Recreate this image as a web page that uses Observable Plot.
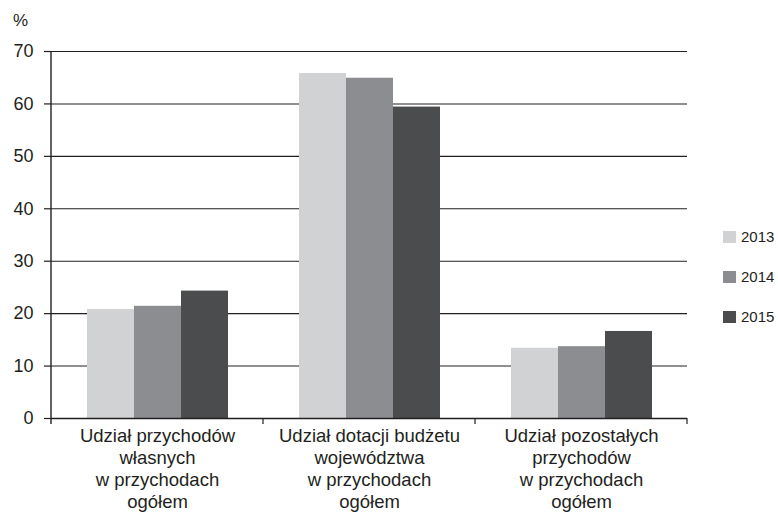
<!DOCTYPE html>
<html>
<head>
<meta charset="utf-8">
<script src="https://cdn.jsdelivr.net/npm/d3@7"></script>
<script src="https://cdn.jsdelivr.net/npm/@observablehq/plot@0.6"></script>
<style>
  body { margin: 0; background: #fff; }
  #wrap { position: relative; width: 778px; height: 512px; font-family: "Liberation Sans", Arial, sans-serif; color: #231f20; }
  #unit { position: absolute; left: 13px; top: 11px; font-size: 17px; }
  #legend { position: absolute; left: 723px; top: 0; }
  .item { position: absolute; left: 0; display: flex; align-items: center; white-space: nowrap; font-size: 15px; line-height: 18px; }
  .sw { width: 13px; height: 12px; margin-right: 5px; flex: none; }
</style>
</head>
<body>
<div id="wrap"></div>
<script>
const categories = [
  "Udział przychodów\nwłasnych\nw przychodach\nogółem",
  "Udział dotacji budżetu\nwojewództwa\nw przychodach\nogółem",
  "Udział pozostałych\nprzychodów\nw przychodach\nogółem"
];
const years = ["2013", "2014", "2015"];
const values2013 = [20.8, 65.8, 13.4];
const values2014 = [21.4, 64.9, 13.7];
const values2015 = [24.3, 59.4, 16.6];
const yearColors = ["#d1d2d4", "#8c8d90", "#4b4c4e"];
const yTicks = [0, 10, 20, 30, 40, 50, 60, 70];
const unitLabel = "%";

const series = [values2013, values2014, values2015];
const data = [];
categories.forEach((c, i) => {
  years.forEach((y, j) => data.push({category: c, year: y, value: series[j][i]}));
});

const ink = "#231f20";
const chart = Plot.plot({
  width: 778,
  height: 512,
  marginLeft: 50,
  marginRight: 91,
  marginTop: 51,
  marginBottom: 94,
  style: {fontFamily: '"Liberation Sans", Arial, sans-serif', fontSize: "17px", color: ink, background: "#fff", overflow: "visible"},
  fx: {domain: categories, padding: 0, axis: null},
  x: {domain: years, paddingInner: 0, paddingOuter: 0.72, axis: null},
  y: {domain: [0, 70], axis: null},
  color: {domain: years, range: yearColors},
  marks: [
    Plot.ruleY(yTicks.filter(d => d > 0), {stroke: ink, strokeWidth: 1.1}),
    Plot.barY(data, {fx: "category", x: "year", y: "value", fill: "year"}),
    Plot.ruleY([0], {stroke: ink, strokeWidth: 1.4}),
    Plot.axisY({ticks: yTicks, tickSize: 7, tickPadding: 11, fontSize: 18, stroke: ink, strokeWidth: 1.2, label: null}),
    Plot.axisFx({anchor: "bottom", tickSize: 0, tickPadding: 8, fontSize: 18.5, lineHeight: 1.19, label: null})
  ]
});

const wrap = document.getElementById("wrap");
wrap.appendChild(chart);

// y axis line and category boundary ticks, derived from the scales
const fx = chart.scale("fx");
const ys = chart.scale("y");
const svg = d3.select(chart);
const y0 = ys.apply(0), yTop = ys.apply(70);
const starts = categories.map(c => fx.apply(c));
const bounds = starts.concat([starts[starts.length - 1] + fx.bandwidth]);
svg.append("line")
  .attr("x1", bounds[0]).attr("x2", bounds[0])
  .attr("y1", yTop).attr("y2", y0 + 6)
  .attr("stroke", ink).attr("stroke-width", 1.4);
svg.selectAll(".bt").data(bounds.slice(1)).join("line")
  .attr("x1", d => d).attr("x2", d => d)
  .attr("y1", y0).attr("y2", y0 + 6)
  .attr("stroke", ink).attr("stroke-width", 1.2);

const unit = document.createElement("div");
unit.id = "unit";
unit.textContent = unitLabel;
wrap.appendChild(unit);

const legend = document.createElement("div");
legend.id = "legend";
years.forEach((y, i) => {
  const it = document.createElement("div");
  it.className = "item";
  it.style.top = (228 + i * 40) + "px";
  const sw = document.createElement("span");
  sw.className = "sw";
  sw.style.background = yearColors[i];
  const t = document.createElement("span");
  t.textContent = y;
  it.appendChild(sw);
  it.appendChild(t);
  legend.appendChild(it);
});
wrap.appendChild(legend);
</script>
</body>
</html>
